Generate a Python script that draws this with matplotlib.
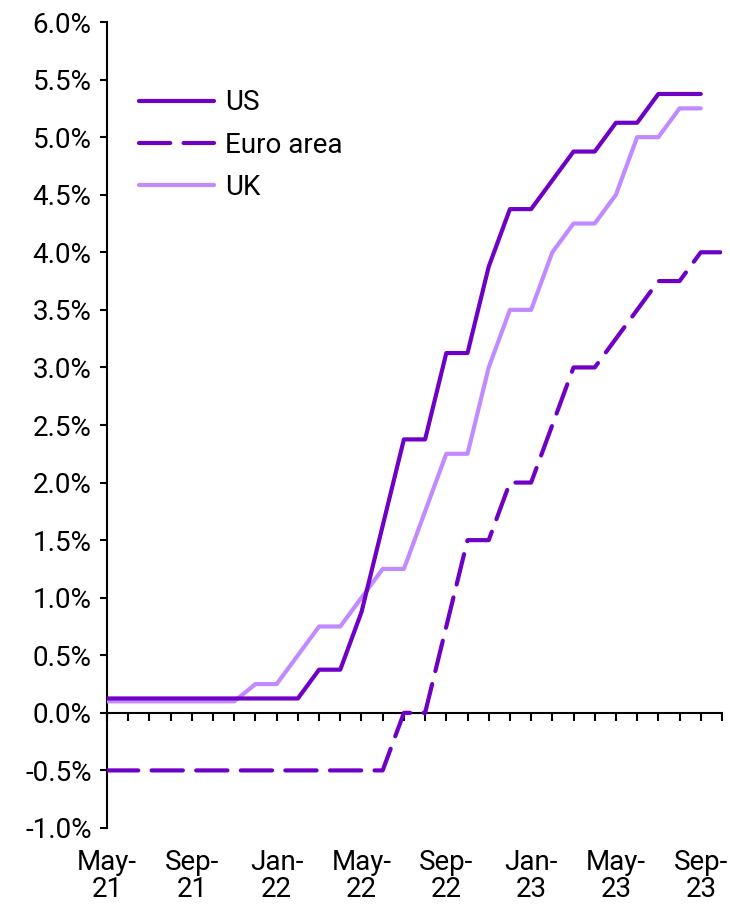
import matplotlib
matplotlib.use("Agg")
import matplotlib.pyplot as plt

# monthly, May-21 .. Oct-23
MONTHS = [
    "May-21", "Jun-21", "Jul-21", "Aug-21", "Sep-21", "Oct-21", "Nov-21", "Dec-21",
    "Jan-22", "Feb-22", "Mar-22", "Apr-22", "May-22", "Jun-22", "Jul-22", "Aug-22",
    "Sep-22", "Oct-22", "Nov-22", "Dec-22", "Jan-23", "Feb-23", "Mar-23", "Apr-23",
    "May-23", "Jun-23", "Jul-23", "Aug-23", "Sep-23", "Oct-23",
]

US = [0.125] * 10 + [0.375, 0.375, 0.875, 1.625, 2.375, 2.375, 3.125, 3.125, 3.875,
                     4.375, 4.375, 4.625, 4.875, 4.875, 5.125, 5.125, 5.375, 5.375, 5.375]
EURO = [-0.5] * 14 + [0.0, 0.0, 0.75, 1.5, 1.5, 2.0, 2.0, 2.5, 3.0, 3.0, 3.25, 3.5,
                      3.75, 3.75, 4.0, 4.0]
UK = [0.1] * 7 + [0.25, 0.25, 0.5, 0.75, 0.75, 1.0, 1.25, 1.25, 1.75, 2.25, 2.25, 3.0,
                  3.5, 3.5, 4.0, 4.25, 4.25, 4.5, 5.0, 5.0, 5.25, 5.25]

TICK_EVERY = 4
DARK = "#6f00c6"
LIGHT = "#c18bff"

plt.rcParams["font.family"] = ["Roboto", "DejaVu Sans"]
plt.rcParams["font.size"] = 20

fig = plt.figure(figsize=(7.3, 9.06), dpi=100)
ax = fig.add_axes([0.1466, 0.0861, 0.8424, 0.8896])

x_us = list(range(len(US)))
x_euro = list(range(len(EURO)))
x_uk = list(range(len(UK)))

ax.plot(x_us, US, color=DARK, lw=3, label="US", solid_capstyle="round", zorder=4)
ax.plot(x_euro, EURO, color=DARK, lw=3, ls=(0, (7.5, 3.2)), label="Euro area",
        dash_capstyle="round", zorder=4)
ax.plot(x_uk, UK, color=LIGHT, lw=3, label="UK", solid_capstyle="round", zorder=3)

ymin, ymax = -1.0, 6.0
ax.set_ylim(ymin, ymax)
ax.set_xlim(0, len(MONTHS) - 1)
ax.set_yticks([v / 2 for v in range(-2, 13)])
ax.set_yticklabels([f"{v / 2:.1f}%" for v in range(-2, 13)])

major = list(range(0, len(MONTHS), TICK_EVERY))
ax.set_xticks(major)
ax.set_xticklabels([MONTHS[i].replace("-", "-\n") for i in major], linespacing=1.0)
ax.tick_params(axis="x", length=0, pad=15)
ax.tick_params(axis="y", direction="out", length=5, width=1.5, pad=6)

for side in ("top", "right", "bottom"):
    ax.spines[side].set_visible(False)
ax.spines["left"].set_linewidth(1.5)

# zero line with monthly ticks
zero_axis = ax.secondary_xaxis((0 - ymin) / (ymax - ymin))
zero_axis.set_xticks(range(len(MONTHS)))
zero_axis.set_xticklabels([])
zero_axis.tick_params(direction="out", length=6, width=1.5)
zero_axis.spines["bottom"].set_linewidth(1.5)

ax.legend(loc="upper left", bbox_to_anchor=(0.052, 0.9165), frameon=False,
          borderpad=0, borderaxespad=0, handlelength=2.7, handletextpad=0.4,
          labelspacing=0.55, fontsize=20)

fig.savefig("out.png", dpi=100)
